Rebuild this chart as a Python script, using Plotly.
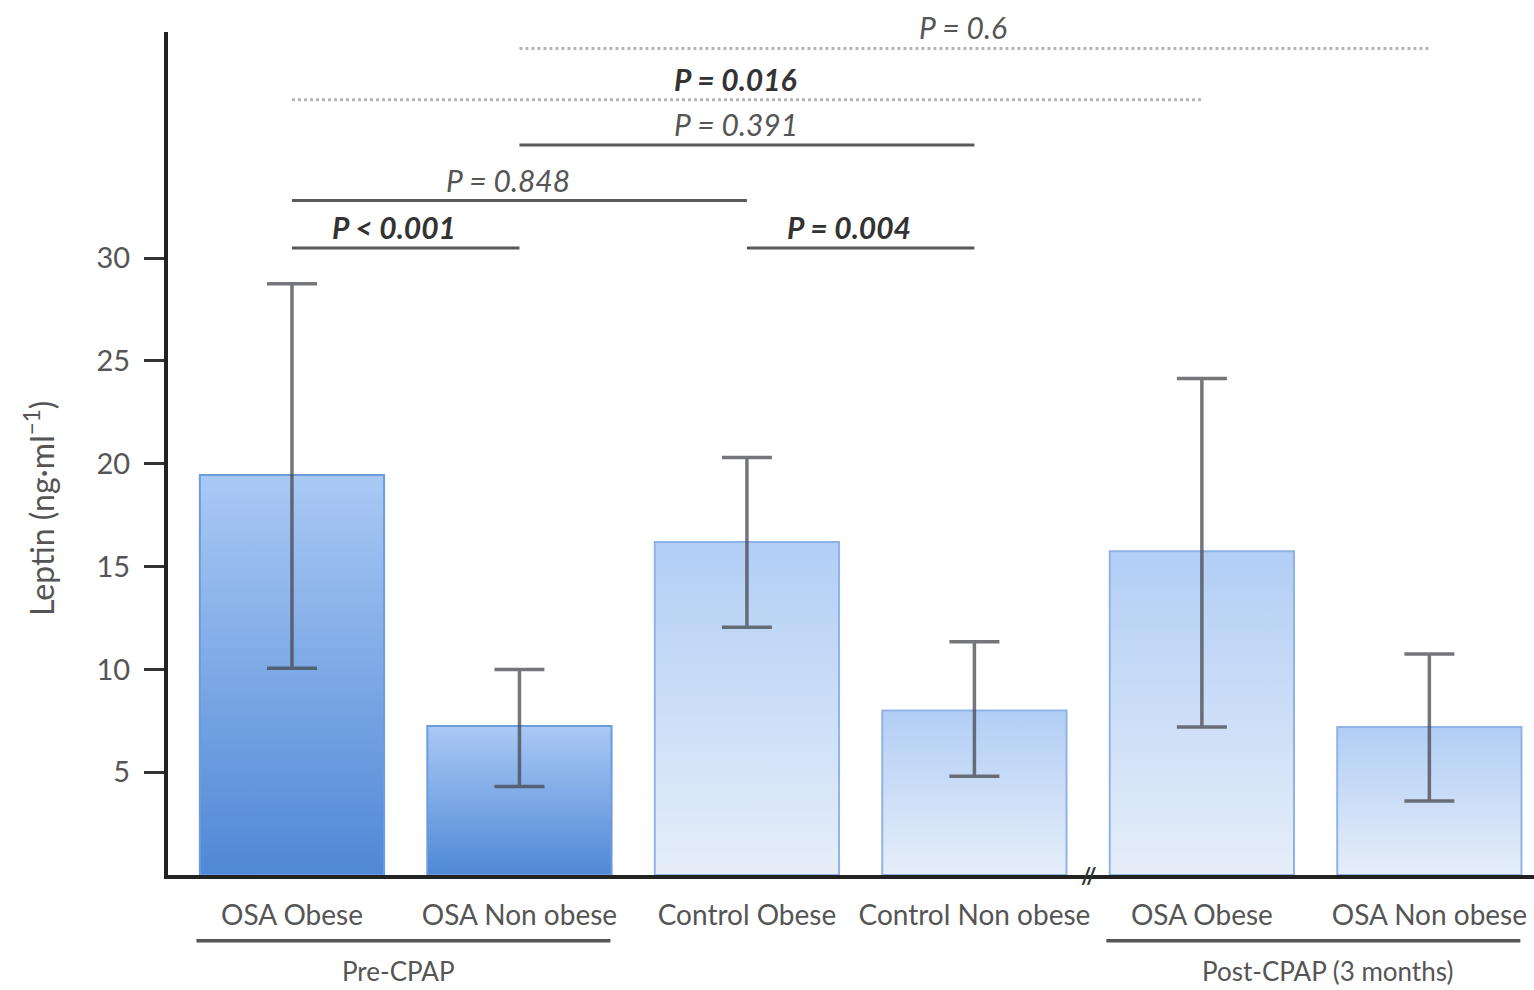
import plotly.graph_objects as go

# ---- data ----
categories = ["OSA Obese", "OSA Non obese", "Control Obese", "Control Non obese", "OSA Obese", "OSA Non obese"]
means = [19.45, 7.25, 16.2, 8.0, 15.75, 7.2]
upper = [28.75, 10.0, 20.3, 11.35, 24.15, 10.75]
lower = [10.05, 4.3, 12.05, 4.8, 7.2, 3.6]
shade = ["dark", "dark", "light", "light", "light", "light"]

# significance comparisons: (from bar, to bar, label, level, bold, dotted)
cmp_from = [0, 0, 2, 1, 0, 1]
cmp_to = [1, 2, 3, 3, 4, 5]
cmp_label = ["P < 0.001", "P = 0.848", "P = 0.004", "P = 0.391", "P = 0.016", "P = 0.6"]
cmp_level = [30.5, 32.8, 30.5, 35.5, 37.7, 40.2]
cmp_bold = [True, False, True, False, True, False]
cmp_dotted = [False, False, False, False, True, True]

groups = ["Pre-CPAP", "Post-CPAP (3 months)"]
group_bars = [(0, 1), (4, 5)]

yticks = [5, 10, 15, 20, 25, 30]

FONT = "Lato"
BW = 0.81

grad = {
    "dark": dict(scale=[[0, "#4f88d6"], [1, "#aac9f5"]], line="#6d9be0"),
    "light": dict(scale=[[0, "#e6eef9"], [1, "#b2cef5"]], line="#8fb3e8"),
}

fig = go.Figure()
x = list(range(len(categories)))

for i, m in enumerate(means):
    g = grad[shade[i]]
    fig.add_trace(go.Scatter(
        x=[i - BW / 2, i - BW / 2, i + BW / 2, i + BW / 2, i - BW / 2],
        y=[0, m, m, 0, 0],
        mode="lines", fill="toself",
        fillgradient=dict(type="vertical", colorscale=g["scale"]),
        line=dict(color=g["line"], width=2),
        hoverinfo="skip", showlegend=False,
    ))

fig.add_trace(go.Scatter(
    x=x, y=means, mode="markers",
    marker=dict(size=1, opacity=0),
    error_y=dict(type="data", symmetric=False,
                 array=[u - m for u, m in zip(upper, means)],
                 arrayminus=[m - l for m, l in zip(means, lower)],
                 color="rgba(70,72,78,0.75)", thickness=3.5, width=25),
    showlegend=False,
))

shapes = []
annotations = []
for a, b, lab, lev, bold, dot in zip(cmp_from, cmp_to, cmp_label, cmp_level, cmp_bold, cmp_dotted):
    shapes.append(dict(type="line", xref="x", yref="y", x0=a, x1=b, y0=lev, y1=lev,
                       line=dict(color="#b5b5b5" if dot else "#5a5a5a", width=3,
                                 dash="dot" if dot else "solid")))
    txt = f"<b><i>{lab}</i></b>" if bold else f"<i>{lab}</i>"
    annotations.append(dict(x=(a + b) / 2 - 0.05, y=lev, xref="x", yref="y", text=txt,
                            showarrow=False, yanchor="bottom", yshift=1,
                            font=dict(family=FONT, size=30, color="#333" if bold else "#555")))

for name, (a, b) in zip(groups, group_bars):
    shapes.append(dict(type="line", xref="x", yref="paper", x0=a - 0.42, x1=b + 0.40,
                       y0=-0.078, y1=-0.078, line=dict(color="#555", width=3.5)))
    annotations.append(dict(x=(a + b) / 2 + (-0.03 if a == 0 else 0.05), y=-0.114, xref="x", yref="paper",
                            text=name, showarrow=False, yanchor="middle",
                            font=dict(family=FONT, size=26, color="#555")))

# axis break mark
annotations.append(dict(x=3.5, y=0, xref="x", yref="y", text="<b>//</b>", showarrow=False,
                        yanchor="middle", font=dict(family=FONT, size=22, color="#333")))

# y-axis title
annotations.append(dict(x=-0.094, y=0.435, xref="paper", yref="paper", xanchor="center",
                        yanchor="middle",
                        text="Leptin (ng·ml<sup>−1</sup>)", textangle=-90, showarrow=False,
                        font=dict(family=FONT, size=32, color="#555")))

fig.update_layout(
    width=1534, height=990,
    margin=dict(l=168, r=0, t=32, b=115),
    paper_bgcolor="white", plot_bgcolor="white",
    font=dict(family=FONT, color="#555"),
    shapes=shapes, annotations=annotations,
    showlegend=False,
)
fig.update_xaxes(range=[-0.545, 5.46], tickvals=x, ticktext=categories,
                 tickfont=dict(family=FONT, size=28, color="#555"),
                 showline=True, linecolor="#222", linewidth=4, ticks="",
                 showgrid=False, zeroline=False, ticklabelstandoff=12)
fig.update_yaxes(range=[0, 41], tickvals=yticks,
                 tickfont=dict(family=FONT, size=29, color="#555"),
                 showline=True, linecolor="#222", linewidth=4,
                 ticks="outside", ticklen=20, tickwidth=3, tickcolor="#333",
                 ticklabelstandoff=8,
                 showgrid=False, zeroline=False)

fig.write_html("out.html")
